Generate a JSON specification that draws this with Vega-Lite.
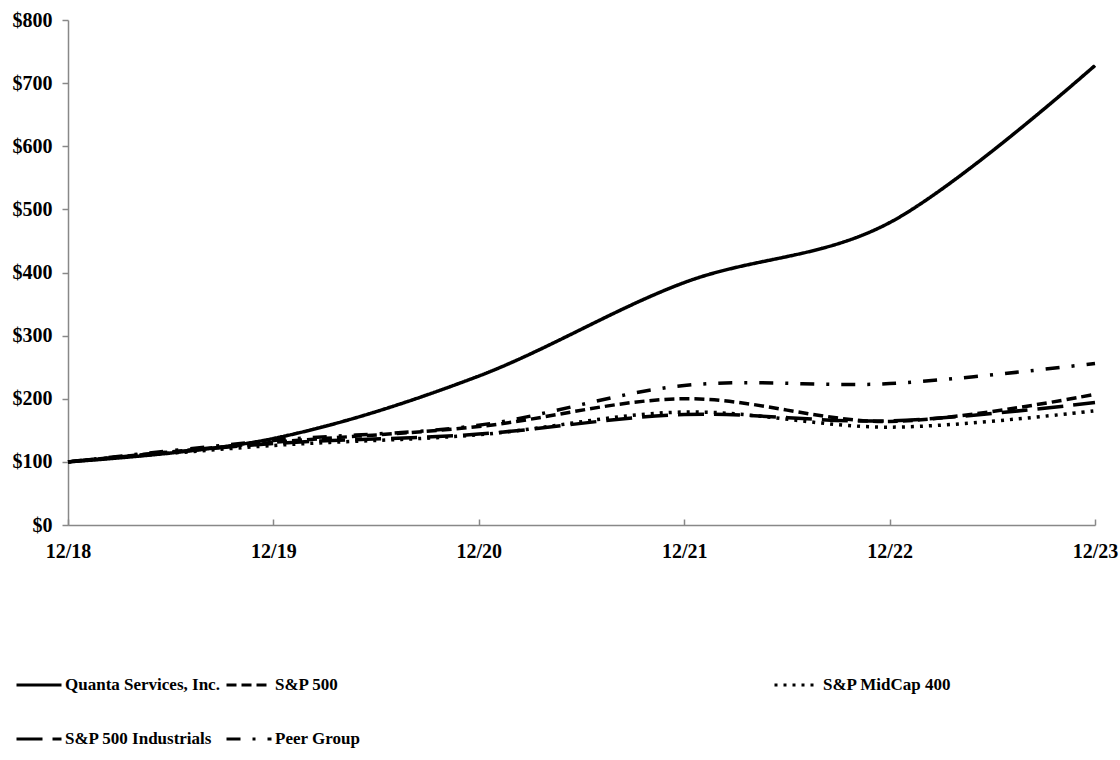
{
  "$schema": "https://vega.github.io/schema/vega-lite/v6.json",
  "width": 1027,
  "height": 505,
  "autosize": {"type": "none"},
  "padding": {"left": 68, "top": 20, "right": 25, "bottom": 235},
  "background": "white",
  "data": {
    "values": [
      {"period": "12/18", "series": "Quanta Services, Inc.", "value": 100},
      {"period": "12/19", "series": "Quanta Services, Inc.", "value": 137},
      {"period": "12/20", "series": "Quanta Services, Inc.", "value": 236},
      {"period": "12/21", "series": "Quanta Services, Inc.", "value": 384},
      {"period": "12/22", "series": "Quanta Services, Inc.", "value": 479},
      {"period": "12/23", "series": "Quanta Services, Inc.", "value": 728},
      {"period": "12/18", "series": "S&P 500", "value": 100},
      {"period": "12/19", "series": "S&P 500", "value": 131},
      {"period": "12/20", "series": "S&P 500", "value": 156},
      {"period": "12/21", "series": "S&P 500", "value": 200},
      {"period": "12/22", "series": "S&P 500", "value": 164},
      {"period": "12/23", "series": "S&P 500", "value": 207},
      {"period": "12/18", "series": "S&P MidCap 400", "value": 100},
      {"period": "12/19", "series": "S&P MidCap 400", "value": 126},
      {"period": "12/20", "series": "S&P MidCap 400", "value": 143},
      {"period": "12/21", "series": "S&P MidCap 400", "value": 179},
      {"period": "12/22", "series": "S&P MidCap 400", "value": 155},
      {"period": "12/23", "series": "S&P MidCap 400", "value": 181},
      {"period": "12/18", "series": "S&P 500 Industrials", "value": 100},
      {"period": "12/19", "series": "S&P 500 Industrials", "value": 129},
      {"period": "12/20", "series": "S&P 500 Industrials", "value": 144},
      {"period": "12/21", "series": "S&P 500 Industrials", "value": 175},
      {"period": "12/22", "series": "S&P 500 Industrials", "value": 165},
      {"period": "12/23", "series": "S&P 500 Industrials", "value": 194},
      {"period": "12/18", "series": "Peer Group", "value": 100},
      {"period": "12/19", "series": "Peer Group", "value": 134},
      {"period": "12/20", "series": "Peer Group", "value": 158},
      {"period": "12/21", "series": "Peer Group", "value": 221},
      {"period": "12/22", "series": "Peer Group", "value": 224},
      {"period": "12/23", "series": "Peer Group", "value": 256}
    ]
  },
  "encoding": {
    "x": {
      "field": "period",
      "type": "ordinal",
      "scale": {"type": "point", "padding": 0},
      "axis": {
        "title": null,
        "labelAngle": 0,
        "tickSize": -6,
        "labelPadding": 22,
        "labelFontSize": 20
      }
    },
    "y": {
      "field": "value",
      "type": "quantitative",
      "scale": {"domain": [0, 800], "nice": false},
      "axis": {
        "title": null,
        "values": [0, 100, 200, 300, 400, 500, 600, 700, 800],
        "labelExpr": "'$' + datum.value",
        "tickSize": 6,
        "labelPadding": 10,
        "labelFontSize": 20
      }
    }
  },
  "layer": [
    {
      "transform": [{"filter": "datum.series == 'S&P MidCap 400'"}],
      "mark": {"type": "line", "interpolate": "cardinal", "strokeWidth": 3.5, "color": "black"},
      "encoding": {
        "strokeDash": {
          "field": "series",
          "type": "nominal",
          "scale": {"domain": ["S&P MidCap 400"], "range": [[3, 6]]},
          "legend": {
            "title": null,
            "orient": "none",
            "direction": "horizontal",
            "legendX": 705,
            "legendY": 641,
            "symbolType": "stroke",
            "symbolSize": 2025,
            "symbolStrokeWidth": 3,
            "symbolStrokeColor": "black",
            "labelFontSize": 17,
            "labelOffset": 2,
            "labelLimit": 1000
          }
        }
      }
    },
    {
      "transform": [{"filter": "datum.series != 'S&P MidCap 400'"}],
      "mark": {"type": "line", "interpolate": "cardinal", "strokeWidth": 3.5, "color": "black"},
      "encoding": {
        "strokeDash": {
          "field": "series",
          "type": "nominal",
          "scale": {
            "domain": ["Quanta Services, Inc.", "S&P 500", "S&P 500 Industrials", "Peer Group"],
            "range": [[1, 0], [10, 5], [26, 10], [14, 12, 3, 12]]
          },
          "legend": {
            "title": null,
            "orient": "none",
            "direction": "horizontal",
            "legendX": -53,
            "legendY": 641,
            "columns": 2,
            "columnPadding": 0,
            "rowPadding": 22,
            "gridAlign": "each",
            "symbolType": "stroke",
            "symbolSize": 2025,
            "symbolStrokeWidth": 3,
            "symbolStrokeColor": "black",
            "labelFontSize": 17,
            "labelOffset": 2,
            "labelLimit": 1000
          }
        }
      }
    }
  ],
  "resolve": {
    "scale": {"strokeDash": "independent"},
    "legend": {"strokeDash": "independent"}
  },
  "config": {
    "view": {"stroke": null},
    "font": "Liberation Serif",
    "axis": {
      "labelFont": "Liberation Serif",
      "labelFontWeight": "bold",
      "labelColor": "black",
      "domainColor": "#888888",
      "domainWidth": 1.5,
      "tickColor": "#888888",
      "tickWidth": 1.5,
      "grid": false,
      "labelOverlap": false,
      "labelBound": false,
      "labelFlush": false
    },
    "legend": {
      "labelFont": "Liberation Serif",
      "labelFontWeight": "bold",
      "labelColor": "black"
    }
  }
}
